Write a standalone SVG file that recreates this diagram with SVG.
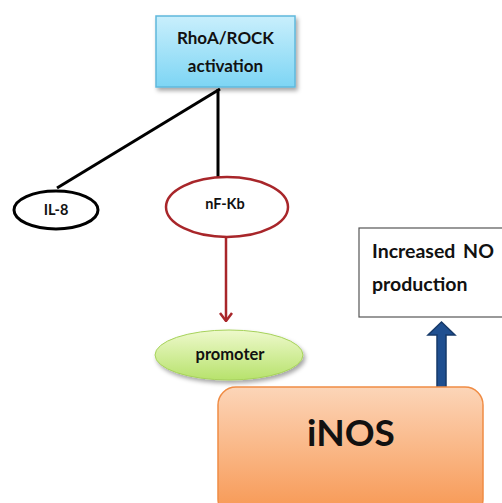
<svg xmlns="http://www.w3.org/2000/svg" width="502" height="503" viewBox="0 0 502 503">
<defs>
<linearGradient id="gCyan" x1="0" y1="0" x2="0" y2="1"><stop offset="0" stop-color="#c9effc"/><stop offset="1" stop-color="#7dd5f4"/></linearGradient>
<linearGradient id="gGreen" x1="0" y1="0" x2="0" y2="1"><stop offset="0" stop-color="#eef9cc"/><stop offset="1" stop-color="#b7e26c"/></linearGradient>
<linearGradient id="gOrange" x1="0" y1="0" x2="0" y2="1"><stop offset="0" stop-color="#fcd5b8"/><stop offset="1" stop-color="#f79650"/></linearGradient>
<filter id="sh" x="-10%" y="-10%" width="125%" height="130%"><feDropShadow dx="2" dy="3" stdDeviation="2" flood-color="#000" flood-opacity="0.35"/></filter>
<marker id="redHead" viewBox="0 0 10 14" refX="9" refY="7" markerWidth="10" markerHeight="14" markerUnits="userSpaceOnUse" orient="auto">
<path d="M1,1 L9,7 L1,13" fill="none" stroke="#a8262a" stroke-width="2.5"/>
</marker>
</defs>
<style>
text{font-family:Lato,"Open Sans","Liberation Sans",sans-serif;font-weight:bold;fill:#111;text-anchor:middle}
.ln{stroke:#000;stroke-width:3;fill:none}
</style>
<rect width="502" height="503" fill="#fff"/>
<g id="connectors">
<line class="ln" x1="220" y1="89" x2="57" y2="188"/>
<line class="ln" x1="218" y1="89" x2="218" y2="178"/>
<line x1="226" y1="238" x2="226" y2="321" stroke="#a8262a" stroke-width="2.5" marker-end="url(#redHead)"/>
<path d="M437,392 L437,335 L428,335 L441.5,322 L455,335 L446,335 L446,392 Z" fill="#1f4f90" stroke="#163a6a" stroke-width="1.5"/>
</g>
<g id="rhoa">
<rect x="156" y="16" width="139" height="71" fill="url(#gCyan)" stroke="#5fb8dc" stroke-width="1.5" filter="url(#sh)"/>
<text x="225.5" y="44" font-size="17">RhoA/ROCK</text>
<text x="225.5" y="72" font-size="17">activation</text>
</g>
<g id="il8">
<ellipse cx="56" cy="210" rx="42" ry="19" fill="#fff" stroke="#000" stroke-width="3"/>
<text x="56" y="215" font-size="14.5">IL-8</text>
</g>
<g id="nfkb">
<ellipse cx="227" cy="207" rx="61" ry="30" fill="#fff" stroke="#a8262a" stroke-width="2.5"/>
<text x="225" y="209" font-size="14.5">nF-Kb</text>
</g>
<g id="promoter">
<ellipse cx="229" cy="355" rx="74" ry="25" fill="url(#gGreen)" stroke="#a6d25a" stroke-width="1" filter="url(#sh)"/>
<text x="230" y="360" font-size="16.5">promoter</text>
</g>
<g id="no">
<rect x="359" y="228" width="150" height="89" fill="#fff" stroke="#555" stroke-width="1.2"/>
<text x="372" y="258" font-size="19.5" style="text-anchor:start" word-spacing="3">Increased NO</text>
<text x="372" y="291" font-size="19.5" style="text-anchor:start">production</text>
</g>
<g id="inos">
<rect x="218" y="387" width="265" height="130" rx="18" fill="url(#gOrange)" stroke="#f08c44" stroke-width="1.5"/>
<text x="351" y="446" font-size="37">iNOS</text>
</g>
</svg>
